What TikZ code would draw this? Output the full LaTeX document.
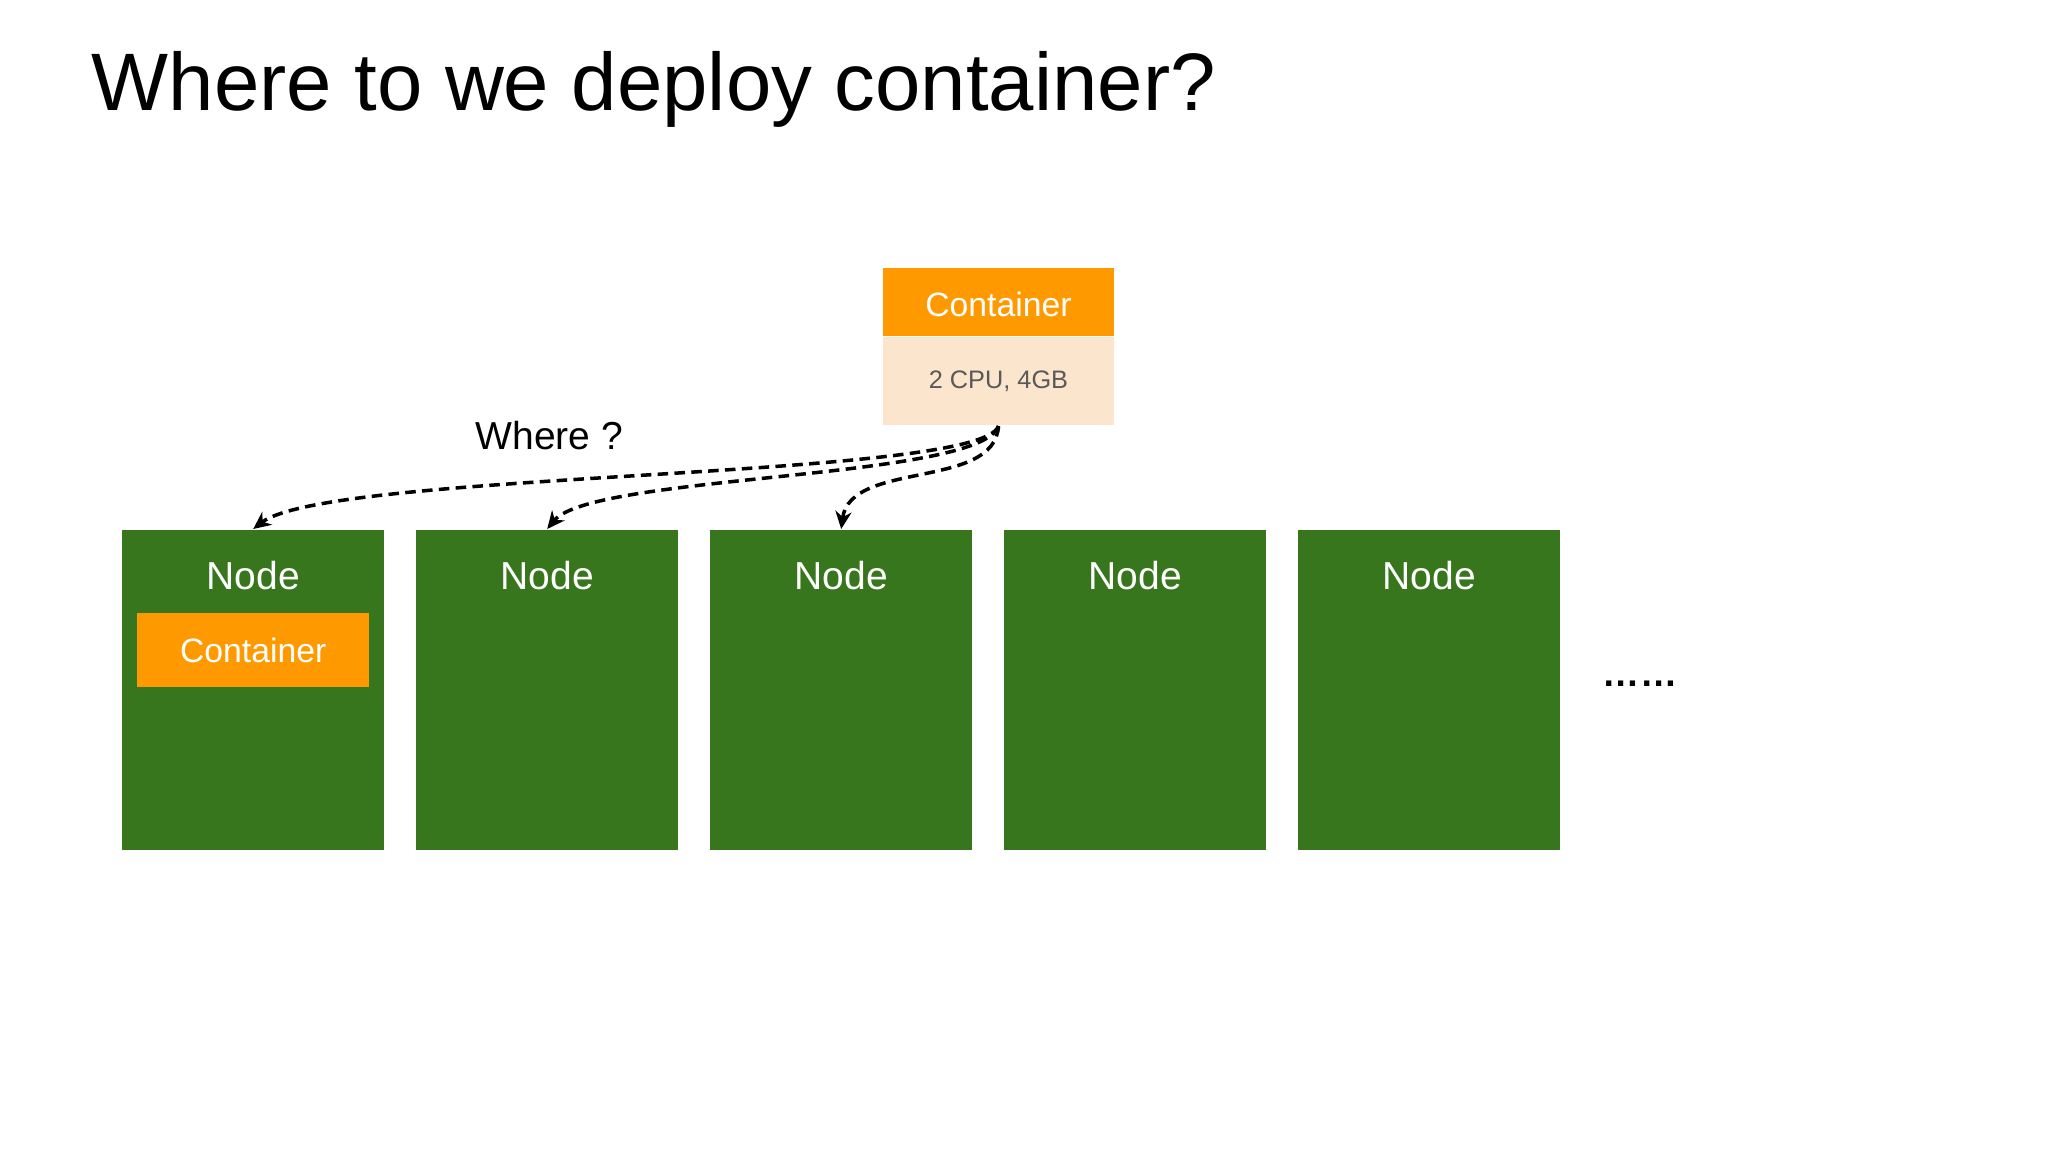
\documentclass[tikz,border=0pt]{standalone}
\usepackage{fontspec}
\setmainfont{Liberation Sans}
\usetikzlibrary{arrows.meta,positioning}
\definecolor{nodegreen}{HTML}{38761D}
\definecolor{contorange}{HTML}{FF9900}
\definecolor{contpeach}{HTML}{FCE5CD}
\definecolor{specgray}{HTML}{595959}
\tikzset{
  nodebox/.style={fill=nodegreen, minimum width=2.62cm, minimum height=3.20cm, inner sep=0pt, anchor=north west},
  nodelabel/.style={text=white, anchor=base, inner sep=0pt, font=\fontsize{11.1}{13}\selectfont},
  contbox/.style={fill=contorange, text=white, minimum width=2.31cm, minimum height=0.68cm, inner sep=0pt, font=\fontsize{9.6}{11}\selectfont},
  specbox/.style={fill=contpeach, text=specgray, minimum width=2.31cm, minimum height=0.88cm, inner sep=0pt, font=\fontsize{7.2}{9}\selectfont},
  flow/.style={line width=1pt, dash pattern=on 3pt off 1.8pt, -{Stealth[length=5pt, width=4.6pt]}}
}
\begin{document}
\begin{tikzpicture}
        \useasboundingbox (0,0) rectangle (20.48,-11.52);
        \fill[white] (0,0) rectangle (20.48,-11.52);
        % Titolo
        \node[anchor=base west, inner sep=0pt, font=\fontsize{23.2}{28}\selectfont] (title) at (0.91,-1.11) {Where to we deploy container?};
        % Container da piazzare
        \node[contbox, text height=0.30cm] (hdr) at (9.985,-3.02) {Container};
        \node[specbox, below=0pt of hdr] (spec) {2 CPU, 4GB};
        % Nodi
        \node[nodebox] (n1) at (1.215,-5.29) {};
        \node[nodebox] (n2) at (4.155,-5.29) {};
        \node[nodebox] (n3) at (7.095,-5.29) {};
        \node[nodebox] (n4) at (10.035,-5.29) {};
        \node[nodebox] (n5) at (12.975,-5.29) {};
        \node[nodelabel] (l1) at ([yshift=-0.61cm]n1.north) {Node};
        \node[nodelabel] (l2) at ([yshift=-0.61cm]n2.north) {Node};
        \node[nodelabel] (l3) at ([yshift=-0.61cm]n3.north) {Node};
        \node[nodelabel] (l4) at ([yshift=-0.61cm]n4.north) {Node};
        \node[nodelabel] (l5) at ([yshift=-0.61cm]n5.north) {Node};
        \node[contbox, minimum width=2.32cm, minimum height=0.74cm] (c1) at ([yshift=-1.21cm]n1.north) {Container};
        \node[anchor=base, inner sep=0pt, font=\bfseries\fontsize{10.6}{13}\selectfont] (more) at (16.40,-6.87) {……};
        % Frecce
        \node[anchor=base, inner sep=0pt, font=\fontsize{11.1}{13}\selectfont] (where) at (5.495,-4.50) {Where ?};
        \draw[flow] (spec.south) .. controls +(-0.19,-0.54) and +(0.77,0.59) .. (n1.north);
        \draw[flow] (spec.south) .. controls +(-0.19,-0.54) and +(0.45,0.55) .. (n2.north);
        \draw[flow] (spec.south) .. controls +(-0.04,-0.64) and +(0.09,0.69) .. (n3.north);
    \end{tikzpicture}
\end{document}
